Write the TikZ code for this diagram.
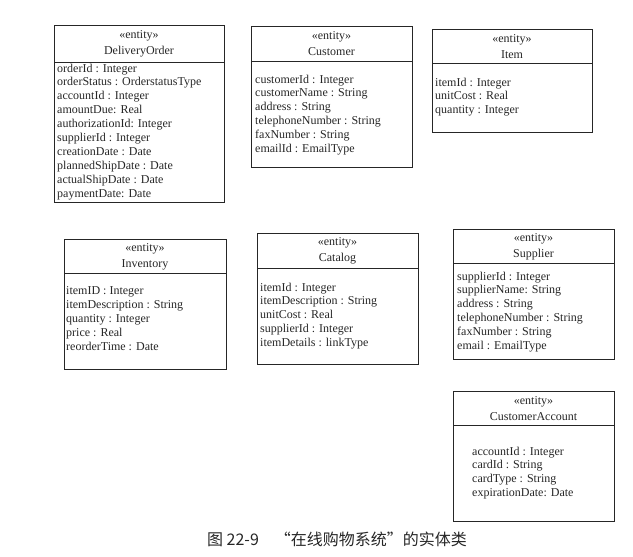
\documentclass[tikz,border=0pt]{standalone}
\usepackage{fontspec}
\setmainfont{Liberation Serif}
\newfontfamily\cjk{Noto Sans CJK SC}
\begin{document}
\begin{tikzpicture}[x=1pt,y=-1pt,
  box/.style={draw=black!85, line width=0.7pt, anchor=north west, inner sep=0pt},
  hdr/.style={align=center, inner sep=0pt, text=black!85, font=\fontsize{12}{16}\selectfont},
  attr/.style={align=left, anchor=north west, inner sep=0pt, text=black!85, font=\fontsize{12}{13.9}\selectfont},
  divider/.style={draw=black!85, line width=0.7pt}]
\useasboundingbox (0,0) rectangle (633,557);
% DeliveryOrder
\node[box, minimum width=170pt, minimum height=177pt] (do) at (54,25) {};
\node[hdr] (doh) at (139,44) {«entity»\\DeliveryOrder};
\draw[divider] (do.west |- 0,62) -- (do.east |- 0,62);
\node[attr] (doa) at (57,63.5) {orderId : Integer\\orderStatus : OrderstatusType\\accountId : Integer\\amountDue: Real\\authorizationId: Integer\\supplierId : Integer\\creationDate : Date\\plannedShipDate : Date\\actualShipDate : Date\\paymentDate: Date};
% Customer
\node[box, minimum width=161pt, minimum height=141pt] (cu) at (251,26) {};
\node[hdr] (cuh) at (331.5,44) {«entity»\\Customer};
\draw[divider] (cu.west |- 0,61) -- (cu.east |- 0,61);
\node[attr] (cua) at (255,74.5) {customerId : Integer\\customerName : String\\address : String\\telephoneNumber : String\\faxNumber : String\\emailId : EmailType};
% Item
\node[box, minimum width=160pt, minimum height=103pt] (it) at (432,29) {};
\node[hdr] (ith) at (512,47) {«entity»\\Item};
\draw[divider] (it.west |- 0,63) -- (it.east |- 0,63);
\node[attr] (ita) at (435,77.5) {itemId : Integer\\unitCost : Real\\quantity : Integer};
% Inventory
\node[box, minimum width=162pt, minimum height=130pt] (inv) at (64,239) {};
\node[hdr] (invh) at (145,256.5) {«entity»\\Inventory};
\draw[divider] (inv.west |- 0,273) -- (inv.east |- 0,273);
\node[attr] (inva) at (66,286.5) {itemID : Integer\\itemDescription : String\\quantity : Integer\\price : Real\\reorderTime : Date};
% Catalog
\node[box, minimum width=161pt, minimum height=131pt] (ca) at (257,233) {};
\node[hdr] (cah) at (337.5,251) {«entity»\\Catalog};
\draw[divider] (ca.west |- 0,268) -- (ca.east |- 0,268);
\node[attr] (caa) at (260,282.5) {itemId : Integer\\itemDescription : String\\unitCost : Real\\supplierId : Integer\\itemDetails : linkType};
% Supplier
\node[box, minimum width=161pt, minimum height=130pt] (su) at (453,229) {};
\node[hdr] (suh) at (533.5,247) {«entity»\\Supplier};
\draw[divider] (su.west |- 0,263) -- (su.east |- 0,263);
\node[attr] (sua) at (457,271.5) {supplierId : Integer\\supplierName: String\\address : String\\telephoneNumber : String\\faxNumber : String\\email : EmailType};
% CustomerAccount
\node[box, minimum width=161pt, minimum height=130pt] (cacc) at (453,391) {};
\node[hdr] (cacch) at (533.5,409) {«entity»\\CustomerAccount};
\draw[divider] (cacc.west |- 0,425) -- (cacc.east |- 0,425);
\node[attr] (cacca) at (472,446.5) {accountId : Integer\\cardId : String\\cardType : String\\expirationDate: Date};
% caption
\node[inner sep=0pt, text=black!85, font=\cjk\fontsize{16}{19}\selectfont] (cap) at (337,539) {图 22-9\quad “在线购物系统”的实体类};
\end{tikzpicture}
\end{document}
